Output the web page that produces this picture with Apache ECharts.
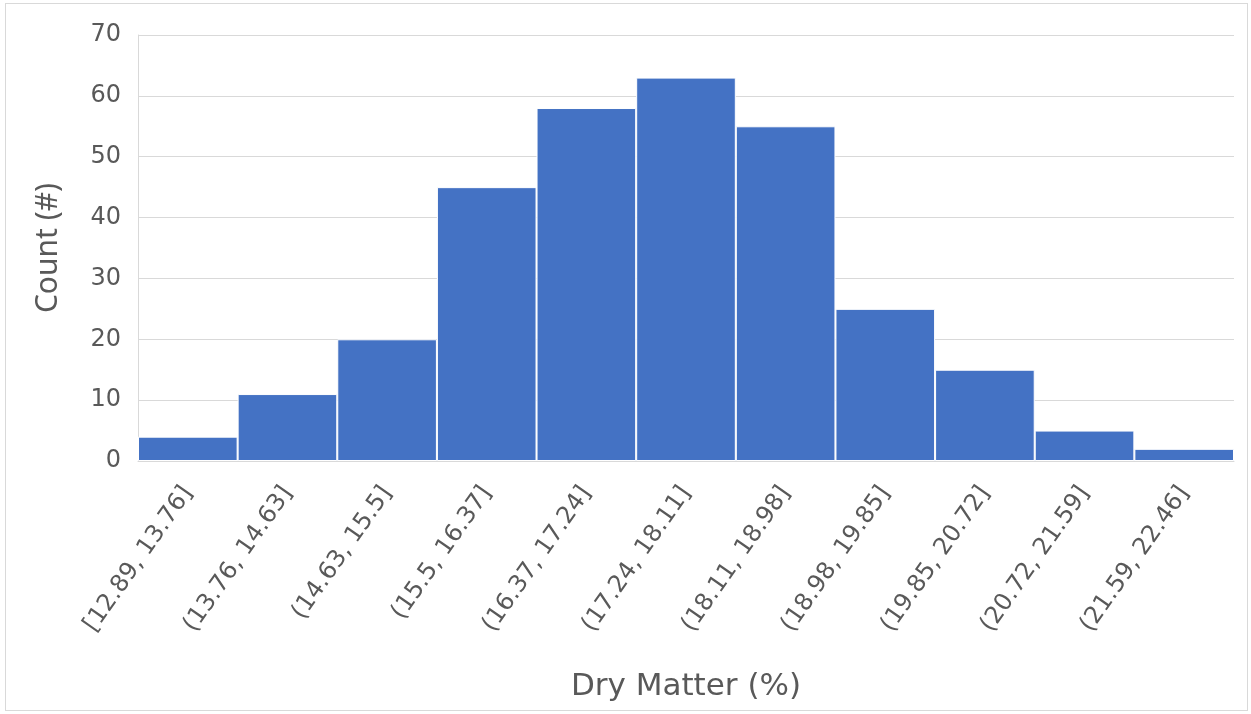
<!DOCTYPE html>
<html>
<head>
<meta charset="utf-8">
<script src="https://cdn.jsdelivr.net/npm/echarts@6/dist/echarts.min.js"></script>
<style>
html,body{margin:0;padding:0;background:#fff;}
#main{width:1251px;height:714px;}
.frame{position:absolute;left:5px;top:3px;width:1241px;height:706px;border:1px solid #d9d9d9;pointer-events:none;}
</style>
</head>
<body>
<div id="main"></div>
<div class="frame"></div>
<script>
const bins = ['[12.89, 13.76]','(13.76, 14.63]','(14.63, 15.5]','(15.5, 16.37]','(16.37, 17.24]','(17.24, 18.11]','(18.11, 18.98]','(18.98, 19.85]','(19.85, 20.72]','(20.72, 21.59]','(21.59, 22.46]'];
const counts = [4, 11, 20, 45, 58, 63, 55, 25, 15, 5, 2];

const chart = echarts.init(document.getElementById('main'));
const wide = 'DejaVu Sans';
chart.setOption({
  animation: false,
  grid: {left: 138, right: 17, top: 35, bottom: 253},
  xAxis: {
    type: 'category',
    data: bins,
    name: 'Dry Matter (%)',
    nameLocation: 'middle',
    nameGap: 210,
    nameTextStyle: {color: '#595959', fontSize: 31, fontFamily: wide},
    axisLine: {show: true, lineStyle: {color: '#d9d9d9', width: 1}},
    axisTick: {show: false},
    axisLabel: {rotate: 55, color: '#595959', fontSize: 24, fontFamily: wide, margin: 28, interval: 0}
  },
  yAxis: {
    type: 'value',
    min: 0, max: 70, interval: 10,
    name: 'Count (#)',
    nameLocation: 'middle',
    nameGap: 75,
    nameTextStyle: {color: '#595959', fontSize: 30, fontFamily: 'Noto Sans'},
    axisLine: {show: true, lineStyle: {color: '#d9d9d9', width: 1}},
    axisTick: {show: false},
    axisLabel: {color: '#595959', fontSize: 24, fontFamily: wide, margin: 17},
    splitLine: {lineStyle: {color: '#d9d9d9', width: 1}}
  },
  series: [{
    type: 'bar',
    data: counts,
    barCategoryGap: '0%',
    itemStyle: {color: '#4472c4', borderColor: '#ffffff', borderWidth: 1}
  }]
});
</script>
</body>
</html>
